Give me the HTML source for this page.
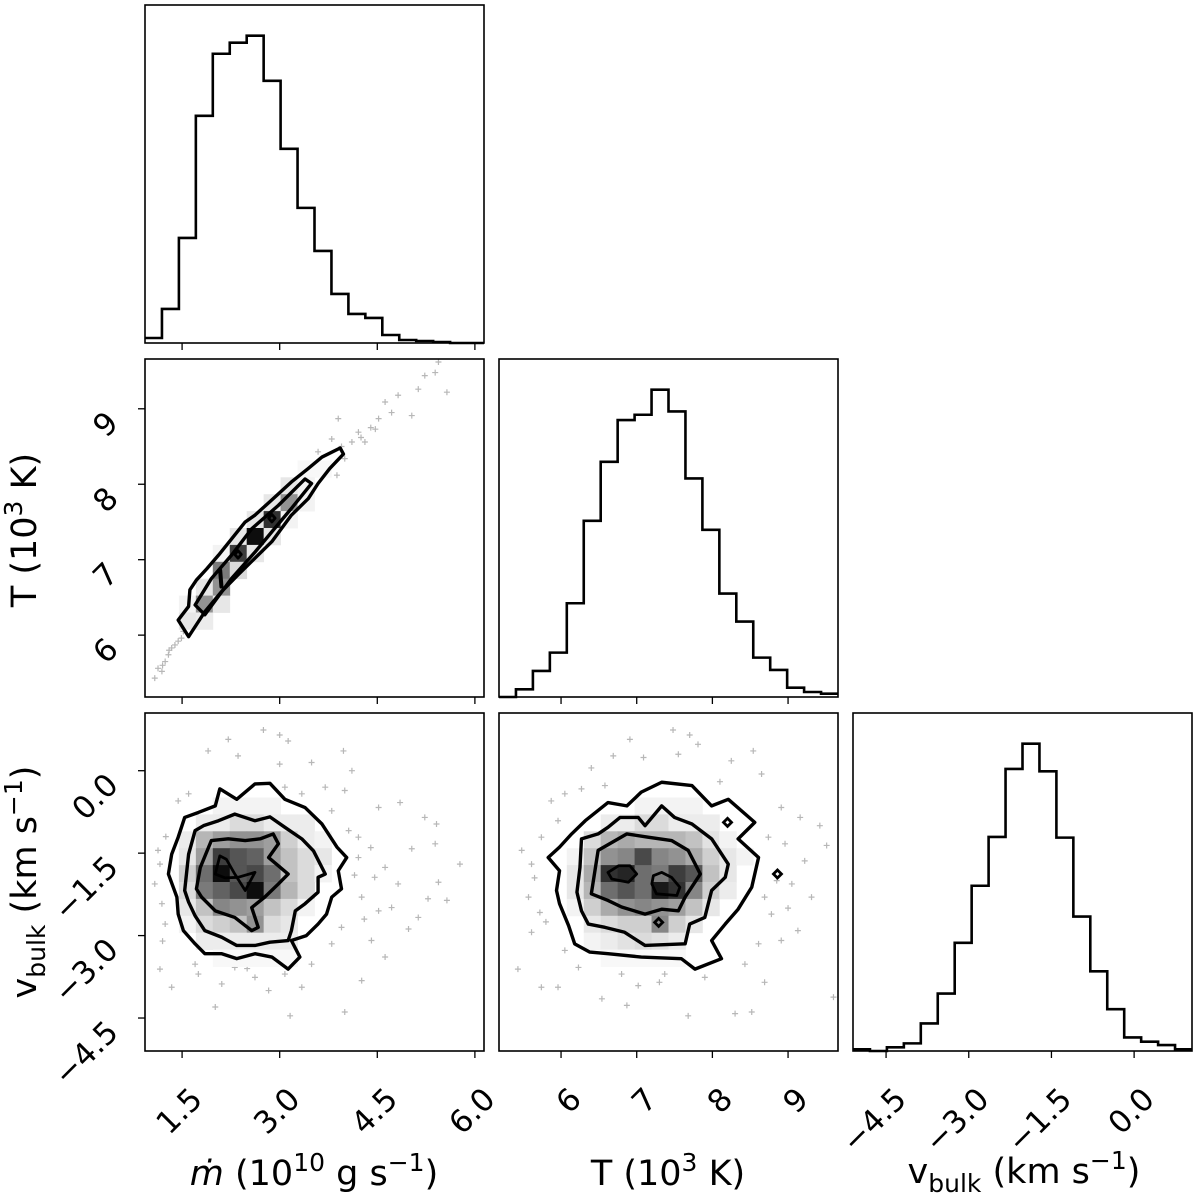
<!DOCTYPE html>
<html><head><meta charset="utf-8"><style>
html,body{margin:0;padding:0;background:#fff;}
svg{display:block;font-family:"DejaVu Sans","Liberation Sans",sans-serif;}
</style></head><body>
<svg id="chart" width="1200" height="1197" viewBox="0 0 1200 1197" xmlns="http://www.w3.org/2000/svg">
<rect width="1200" height="1197" fill="#fff"/>
<g id="layer"></g>
<text x="314" y="1185" font-size="35" text-anchor="middle" fill="#000"><tspan font-style="italic">ṁ</tspan> (10<tspan dy="-14" font-size="25">10</tspan><tspan dy="14"> g s</tspan><tspan dy="-14" font-size="25">−1</tspan><tspan dy="14">)</tspan></text>
<text x="668" y="1185" font-size="35" text-anchor="middle" fill="#000">T (10<tspan dy="-14" font-size="25">3</tspan><tspan dy="14"> K)</tspan></text>
<text x="1024" y="1183" font-size="35" text-anchor="middle" fill="#000">v<tspan dy="9" font-size="25">bulk</tspan><tspan dy="-9"> (km s</tspan><tspan dy="-14" font-size="25">−1</tspan><tspan dy="14">)</tspan></text>
<text transform="translate(36,530) rotate(-90)" font-size="35" text-anchor="middle" fill="#000">T (10<tspan dy="-14" font-size="25">3</tspan><tspan dy="14"> K)</tspan></text>
<text transform="translate(36,882) rotate(-90)" font-size="35" text-anchor="middle" fill="#000">v<tspan dy="9" font-size="25">bulk</tspan><tspan dy="-9"> (km s</tspan><tspan dy="-14" font-size="25">−1</tspan><tspan dy="14">)</tspan></text>
</svg>
<script>
// ---- data ----
const mDomain = [0.93, 6.14];
const tDomain = [5.18, 9.66];
const vDomain = [-5.1, 1.05];
const mTicks = [1.5, 3.0, 4.5, 6.0];
const mTickLabels = ["1.5", "3.0", "4.5", "6.0"];
const tTicks = [6, 7, 8, 9];
const tTickLabels = ["6", "7", "8", "9"];
const vTicks = [-4.5, -3.0, -1.5, 0.0];
const vTickLabels = ["−4.5", "−3.0", "−1.5", "0.0"];

const mHist = [5,34,105,227,289,300,307,262,194,135,92,49,29,25,8,3,2,1,0,0];
const tHist = [0,23,78,133,281,528,705,830,846,921,856,655,501,310,226,118,81,28,15,10];
const vHist = [5,0,11,23,83,173,326,498,645,850,926,843,643,405,240,126,41,28,18,5];

// heatmaps: [row(from top), startCol, darkness values]
const mvHeat = [
 [5,4,[.05,.05,.05,.05]],
 [6,3,[.08,.08,.15,.15,.08,.08,.08]],
 [7,2,[.08,.3,.4,.45,.45,.4,.2,.08,.05]],
 [8,2,[.1,.4,.8,.7,.65,.4,.25,.15,.1]],
 [9,2,[.2,.6,1,.7,.75,.6,.25,.15,.05]],
 [10,2,[.15,.55,.65,.75,1,.55,.3,.15]],
 [11,2,[.1,.25,.5,.45,.4,.25,.15,.05]],
 [12,2,[.05,.15,.2,.25,.45,.15,.1]],
 [13,3,[.08,.08,.08,.08,.08,.08]],
 [14,4,[.03,.03,.03,.03,.03]]
];
const tvHeat = [
 [5,8,[.05,.05,.05,.05]],
 [6,6,[.08,.08,.15,.15,.08,.08,.08]],
 [7,5,[.15,.3,.35,.3,.3,.3,.25,.12,.05]],
 [8,4,[.05,.25,.45,.5,.75,.5,.45,.35,.2,.1,.05]],
 [9,4,[.1,.35,.85,.9,.6,.55,.8,.7,.25,.1]],
 [10,4,[.1,.3,.6,.7,.6,.95,.85,.5,.2,.08]],
 [11,4,[.05,.2,.35,.45,.5,.45,.4,.25,.1]],
 [12,5,[.1,.15,.2,.2,.5,.2,.1]],
 [13,5,[.05,.08,.12,.15,.12,.08]],
 [14,6,[.03,.03,.03,.03,.03]]
];
const mtHeat = [
 [6,9,[.03,.03]],[7,8,[.1,.05]],[8,7,[.1,.45,.05]],[9,6,[.1,.85,.05]],
 [10,5,[.1,1,.1]],[11,4,[.05,.8,.1]],[12,4,[.55,.15]],[13,3,[.1,.45]],
 [14,2,[.05,.45,.1]],[15,2,[.1,.08]]
];

// contours (data units)
const mtContourOuter = [[1.44,6.20],[1.60,6.38],[1.62,6.60],[1.72,6.73],[1.88,6.88],[2.06,7.06],[2.47,7.50],[2.62,7.59],[2.85,7.77],[3.18,8.03],[3.44,8.21],[3.65,8.36],[3.93,8.48],[3.98,8.40],[3.77,8.21],[3.59,8.01],[3.44,7.81],[3.18,7.59],[2.88,7.24],[2.62,7.02],[2.36,6.80],[2.11,6.58],[1.85,6.31],[1.60,5.98]];
const mtContourMiddle = [[1.70,6.40],[1.95,6.75],[2.26,7.06],[2.57,7.41],[2.98,7.72],[3.39,8.07],[3.49,8.01],[3.18,7.68],[2.88,7.37],[2.62,7.10],[2.26,6.75],[1.85,6.27]];
const mtContourInnerA = [[2.83,7.55],[2.88,7.60],[2.93,7.55],[2.88,7.50]];
const mtContourInnerB = [[2.31,7.07],[2.36,7.12],[2.41,7.07],[2.36,7.02]];
const mtContourInnerC = [[2.08,6.86],[2.10,6.64],[2.11,6.64],[2.09,6.86]];

const mvContourOuter = [[2.62,-0.24],[2.85,-0.23],[3.08,-0.52],[3.39,-0.67],[3.65,-0.97],[3.88,-1.39],[4.03,-1.58],[3.90,-1.82],[3.95,-2.15],[3.80,-2.30],[3.72,-2.61],[3.59,-2.79],[3.41,-3.00],[3.18,-3.09],[3.31,-3.39],[3.13,-3.61],[2.88,-3.39],[2.62,-3.33],[2.34,-3.42],[2.11,-3.33],[1.85,-3.33],[1.70,-3.15],[1.52,-2.91],[1.44,-2.61],[1.42,-2.30],[1.29,-1.88],[1.34,-1.52],[1.44,-1.21],[1.54,-0.85],[1.75,-0.76],[2.01,-0.64],[2.08,-0.33],[2.34,-0.52]];
const mvContourMiddle = [[1.54,-2.18],[1.60,-1.52],[1.70,-1.09],[1.83,-1.00],[2.06,-0.91],[2.31,-0.79],[2.62,-0.91],[2.85,-0.84],[3.08,-1.03],[3.34,-1.24],[3.52,-1.46],[3.70,-1.88],[3.59,-1.94],[3.59,-2.21],[3.39,-2.42],[3.24,-2.55],[3.18,-2.91],[3.13,-3.09],[2.85,-3.12],[2.62,-3.18],[2.34,-3.18],[2.11,-3.03],[1.85,-2.91],[1.70,-2.64],[1.60,-2.39]];
const mvContourInner = [[1.72,-2.15],[1.78,-1.76],[1.95,-1.27],[2.21,-1.24],[2.47,-1.27],[2.70,-1.24],[2.90,-1.15],[2.98,-1.33],[2.83,-1.58],[3.13,-1.88],[2.98,-2.06],[2.77,-2.30],[2.57,-2.49],[2.67,-2.85],[2.57,-2.91],[2.31,-2.67],[2.01,-2.55],[1.80,-2.30]];
const mvContourCore = [[2.01,-1.88],[2.08,-1.55],[2.18,-1.61],[2.31,-1.88],[2.47,-2.18],[2.62,-1.85],[2.36,-1.94],[2.16,-1.95]];

const tvContourOuter = [[5.83,-1.58],[5.98,-1.39],[6.14,-1.15],[6.32,-0.91],[6.62,-0.58],[6.87,-0.64],[7.06,-0.39],[7.33,-0.21],[7.73,-0.27],[7.99,-0.64],[8.21,-0.52],[8.56,-0.94],[8.34,-1.24],[8.61,-1.58],[8.52,-2.12],[8.34,-2.52],[8.17,-2.79],[7.99,-3.09],[8.12,-3.42],[7.77,-3.61],[7.59,-3.42],[7.06,-3.39],[6.62,-3.33],[6.38,-3.30],[6.18,-3.15],[6.10,-2.82],[5.98,-2.42],[5.94,-2.18],[5.98,-1.82]];
const tvContourMiddle = [[6.27,-1.24],[6.49,-1.15],[6.62,-1.03],[6.78,-0.85],[7.02,-0.85],[7.11,-1.00],[7.33,-0.64],[7.50,-0.85],[7.73,-0.97],[7.99,-1.24],[8.21,-1.70],[8.17,-1.94],[7.99,-2.18],[7.90,-2.67],[7.70,-2.79],[7.64,-3.15],[7.11,-3.18],[6.84,-2.94],[6.58,-2.85],[6.36,-2.79],[6.27,-2.55],[6.21,-2.21],[6.25,-1.76]];
const tvContourInner = [[6.49,-1.45],[6.87,-1.15],[7.15,-1.21],[7.46,-1.27],[7.68,-1.45],[7.84,-1.88],[7.64,-2.30],[7.55,-2.55],[7.33,-2.52],[7.11,-2.61],[6.80,-2.48],[6.62,-2.36],[6.40,-2.24]];
const tvCoreLeft = [[6.62,-1.85],[6.76,-1.73],[6.91,-1.73],[7.00,-1.88],[6.89,-2.03],[6.67,-1.97]];
const tvCoreRight = [[7.22,-1.91],[7.33,-1.85],[7.46,-1.94],[7.57,-2.12],[7.53,-2.27],[7.26,-2.24],[7.20,-2.06]];
const tvIslands = [[8.20,-0.94],[8.86,-1.88],[7.29,-2.76]];

// scatter samples
const mtPoints = [[5.44,9.62],[5.23,9.44],[5.39,9.48],[5.57,9.22],[5.13,9.26],[4.82,9.18],[5.03,8.91],[4.52,8.87],[4.47,8.73],[4.21,8.69],[3.90,8.87],[4.11,8.56],[4.31,8.56],[4.62,9.09],[4.72,8.95],[4.0,8.34],[3.80,8.60],[3.59,8.43],[3.88,8.12],[4.40,8.75],[4.25,8.62],[3.95,8.50],[1.13,5.56],[1.29,5.74],[1.39,5.87],[1.24,5.65],[1.08,5.43],[1.49,5.96],[1.34,5.83],[1.19,5.52],[1.44,5.92],[1.30,5.80],[1.20,5.60],[1.52,6.05]];
const mvPoints = [[2.21,0.57],[2.75,0.74],[3.0,0.65],[3.13,0.54],[1.90,0.36],[2.36,0.27],[3.0,0.12],[3.98,0.36],[3.49,0.15],[4.11,0.0],[3.70,-0.30],[4.0,-0.36],[4.52,-0.67],[4.85,-0.58],[5.23,-0.85],[5.41,-0.97],[5.39,-1.33],[5.03,-1.42],[5.77,-1.70],[5.44,-2.03],[5.57,-2.36],[5.28,-2.33],[5.13,-2.67],[4.98,-2.88],[4.52,-2.55],[4.26,-2.30],[4.46,-1.94],[4.21,-1.58],[4.62,-1.76],[4.82,-2.06],[4.72,-2.49],[4.41,-3.09],[4.62,-3.39],[4.26,-3.82],[3.34,-3.94],[4.0,-4.39],[3.16,-4.46],[2.01,-4.30],[1.34,-3.94],[1.16,-3.61],[2.11,-3.88],[2.62,-3.76],[2.83,-4.0],[1.75,-3.70],[1.13,-1.45],[1.16,-1.70],[1.08,-2.06],[1.19,-2.42],[1.24,-2.79],[1.44,-0.55],[1.60,-0.42],[3.08,-0.30],[3.34,-0.42],[3.80,-0.73],[4.06,-1.09],[4.21,-1.21],[3.80,-3.15],[3.49,-3.52],[3.08,-3.70],[1.70,-3.52],[2.31,-3.58],[4.15,-1.90],[4.30,-2.70],[3.95,-2.85],[1.25,-1.20],[1.20,-3.10],[2.50,-3.60],[4.40,-1.40]];
const tvPoints = [[7.48,0.74],[7.70,0.65],[6.91,0.57],[7.81,0.48],[8.54,0.36],[6.69,0.27],[7.09,0.24],[7.55,0.30],[8.25,0.18],[8.65,-0.06],[6.27,-0.33],[6.58,-0.27],[6.05,-0.42],[5.87,-0.55],[8.91,-0.67],[9.16,-0.85],[9.42,-1.0],[9.51,-1.36],[9.22,-1.64],[9.05,-2.06],[9.31,-2.30],[9.13,-2.91],[8.91,-3.09],[8.43,-3.52],[8.69,-3.85],[8.30,-4.42],[8.52,-4.39],[7.68,-4.46],[6.87,-4.27],[6.54,-4.15],[5.74,-3.94],[5.96,-3.94],[5.43,-3.61],[5.61,-2.94],[5.72,-2.58],[5.57,-2.30],[5.48,-1.45],[5.61,-1.70],[5.74,-1.21],[5.96,-0.91],[9.60,-4.12],[7.02,-3.91],[7.37,-3.70],[7.90,-3.76],[6.23,-3.58],[6.05,-3.27],[8.69,-2.30],[8.78,-2.61],[8.61,-3.15],[8.96,-1.33],[8.74,-1.21],[5.65,-1.95],[5.80,-2.75],[8.85,-2.00],[9.00,-2.50],[6.80,-3.70],[7.30,-3.85],[8.10,-0.20],[6.40,0.05]];

// ---- drawing ----
const NS = "http://www.w3.org/2000/svg";
const layer = document.getElementById("layer");
const W = 339, H = 338;
function lin(d, r) { return v => r[0] + (v - d[0]) / (d[1] - d[0]) * (r[1] - r[0]); }
function mk(tag, attrs, parent) {
  const e = document.createElementNS(NS, tag);
  for (const k in attrs) e.setAttribute(k, attrs[k]);
  (parent || layer).appendChild(e);
  return e;
}
function panelScales(x0, y0, xd, yd) {
  return { x: lin(xd, [x0, x0 + W]), y: lin(yd, [y0 + H, y0]) };
}
function frame(x0, y0, name) {
  const r = mk("rect", {x: x0, y: y0, width: W, height: H, fill: "none", stroke: "#000", "stroke-width": 1.6});
  
  
}
function xTicks(x0, y0, sx, ticks, labels, name) {
  ticks.forEach((t, i) => {
    const px = sx(t);
    const l = mk("line", {x1: px, x2: px, y1: y0 + H, y2: y0 + H + 7, stroke: "#000", "stroke-width": 1.3});
    
    
    if (labels) {
      const ex = px + 22, ey = y0 + H + 50;
      const t2 = mk("text", {x: ex, y: ey, "font-size": 31, "text-anchor": "end", transform: `rotate(-45 ${ex} ${ey})`, fill: "#000"});
      t2.textContent = labels[i];
      
      
    }
  });
}
function yTicks(x0, sy, ticks, labels, name) {
  ticks.forEach((t, i) => {
    const py = sy(t);
    const l = mk("line", {x1: x0 - 7, x2: x0, y1: py, y2: py, stroke: "#000", "stroke-width": 1.3});
    
    
    const ex = x0 - 25, ey = py + 16;
    const t2 = mk("text", {x: ex, y: ey, "font-size": 31, "text-anchor": "end", transform: `rotate(-45 ${ex} ${ey})`, fill: "#000"});
    t2.textContent = labels[i];
    
    
  });
}
function hist(x0, y0, xd, counts, name) {
  const sx = lin(xd, [x0, x0 + W]);
  const mx = Math.max(...counts) * 1.1;
  const sy = lin([0, mx], [y0 + H, y0]);
  const n = counts.length, dx = (xd[1] - xd[0]) / n;
  let d = "";
  counts.forEach((c, i) => {
    const a = sx(xd[0] + i * dx), b = sx(xd[0] + (i + 1) * dx), y = sy(c);
    d += (i === 0 ? `M${a},${y}` : `L${a},${y}`) + `L${b},${y}`;
  });
  const p = mk("path", {d: d, fill: "none", stroke: "#000", "stroke-width": 2.6});
  
  
}
function scatter(s, pts, name, x0, y0) {
  const g = mk("g", {stroke: "#888", "stroke-width": 1.2, opacity: 0.6});
  
  
  pts.forEach(p => {
    const px = s.x(p[0]), py = s.y(p[1]);
    if (px < x0 || px > x0 + W || py < y0 || py > y0 + H) return;
    const e = mk("path", {d: `M${px - 3},${py}h6M${px},${py - 3}v6`}, g);
    
    
  });
}
function heat(s, xd, yd, rows, name) {
  const dx = (xd[1] - xd[0]) / 20, dy = (yd[1] - yd[0]) / 20;
  const g = mk("g", {});
  
  
  rows.forEach(r => {
    const row = r[0];
    r[2].forEach((v, k) => {
      const col = r[1] + k;
      const xa = s.x(xd[0] + col * dx), xb = s.x(xd[0] + (col + 1) * dx);
      const ya = s.y(yd[1] - row * dy), yb = s.y(yd[1] - (row + 1) * dy);
      const gr = Math.round(255 * (1 - v * 0.95));
      const c = mk("rect", {x: xa, y: ya, width: xb - xa + 0.4, height: yb - ya + 0.4, fill: `rgb(${gr},${gr},${gr})`}, g);
      
      
    });
  });
}
function contour(s, pts, name, closed, w) {
  const d = pts.map((p, i) => (i ? "L" : "M") + s.x(p[0]) + "," + s.y(p[1])).join("") + (closed ? "Z" : "");
  const p = mk("path", {d: d, fill: "none", stroke: "#000", "stroke-width": w || 3.4, "stroke-linejoin": "round"});
  
  
}
function island(s, pt, name) {
  const px = s.x(pt[0]), py = s.y(pt[1]);
  const p = mk("path", {d: `M${px - 4},${py}L${px},${py - 4}L${px + 4},${py}L${px},${py + 4}Z`, fill: "none", stroke: "#000", "stroke-width": 2.8});
  
  
}

// Row 0: mdot histogram
hist(145, 5, mDomain, mHist, "mdot");
frame(145, 5, "mdot-hist-panel");
xTicks(145, 5, lin(mDomain, [145, 145 + W]), mTicks, null, "mdot-hist");

// Row 1 col 0: mdot vs T
let s = panelScales(145, 359, mDomain, tDomain);
scatter(s, mtPoints, "mdot-t", 145, 359);
heat(s, mDomain, tDomain, mtHeat, "mdot-t");
contour(s, mtContourOuter, "mdot-t-contour-outer", true);
contour(s, mtContourMiddle, "mdot-t-contour-middle", true);
contour(s, mtContourInnerA, "mdot-t-contour-inner-a", true, 2.8);
contour(s, mtContourInnerB, "mdot-t-contour-inner-b", true, 2.8);
contour(s, mtContourInnerC, "mdot-t-contour-inner-c", true, 3.4);
frame(145, 359, "mdot-t-panel");
xTicks(145, 359, s.x, mTicks, null, "mdot-t");
yTicks(145, s.y, tTicks, tTickLabels, "mdot-t");

// Row 1 col 1: T histogram
hist(499, 359, tDomain, tHist, "temperature");
frame(499, 359, "temperature-hist-panel");
xTicks(499, 359, lin(tDomain, [499, 499 + W]), tTicks, null, "temperature-hist");

// Row 2 col 0: mdot vs v
s = panelScales(145, 713, mDomain, vDomain);
scatter(s, mvPoints, "mdot-v", 145, 713);
heat(s, mDomain, vDomain, mvHeat, "mdot-v");
contour(s, mvContourOuter, "mdot-v-contour-outer", true);
contour(s, mvContourMiddle, "mdot-v-contour-middle", true);
contour(s, mvContourInner, "mdot-v-contour-inner", true);
contour(s, mvContourCore, "mdot-v-contour-core", true, 2.8);
frame(145, 713, "mdot-v-panel");
xTicks(145, 713, s.x, mTicks, mTickLabels, "mdot-v");
yTicks(145, s.y, vTicks, vTickLabels, "mdot-v");

// Row 2 col 1: T vs v
s = panelScales(499, 713, tDomain, vDomain);
scatter(s, tvPoints, "t-v", 499, 713);
heat(s, tDomain, vDomain, tvHeat, "t-v");
contour(s, tvContourOuter, "t-v-contour-outer", true);
contour(s, tvContourMiddle, "t-v-contour-middle", true);
contour(s, tvContourInner, "t-v-contour-inner", true);
contour(s, tvCoreLeft, "t-v-contour-core-left", true, 2.8);
contour(s, tvCoreRight, "t-v-contour-core-right", true, 2.8);
tvIslands.forEach(p => island(s, p, "t-v-contour-island"));
frame(499, 713, "t-v-panel");
xTicks(499, 713, s.x, tTicks, tTickLabels, "t-v");

// Row 2 col 2: v histogram
hist(853, 713, vDomain, vHist, "vbulk");
frame(853, 713, "vbulk-hist-panel");
xTicks(853, 713, lin(vDomain, [853, 853 + W]), vTicks, vTickLabels, "vbulk-hist");
</script>
</body></html>
